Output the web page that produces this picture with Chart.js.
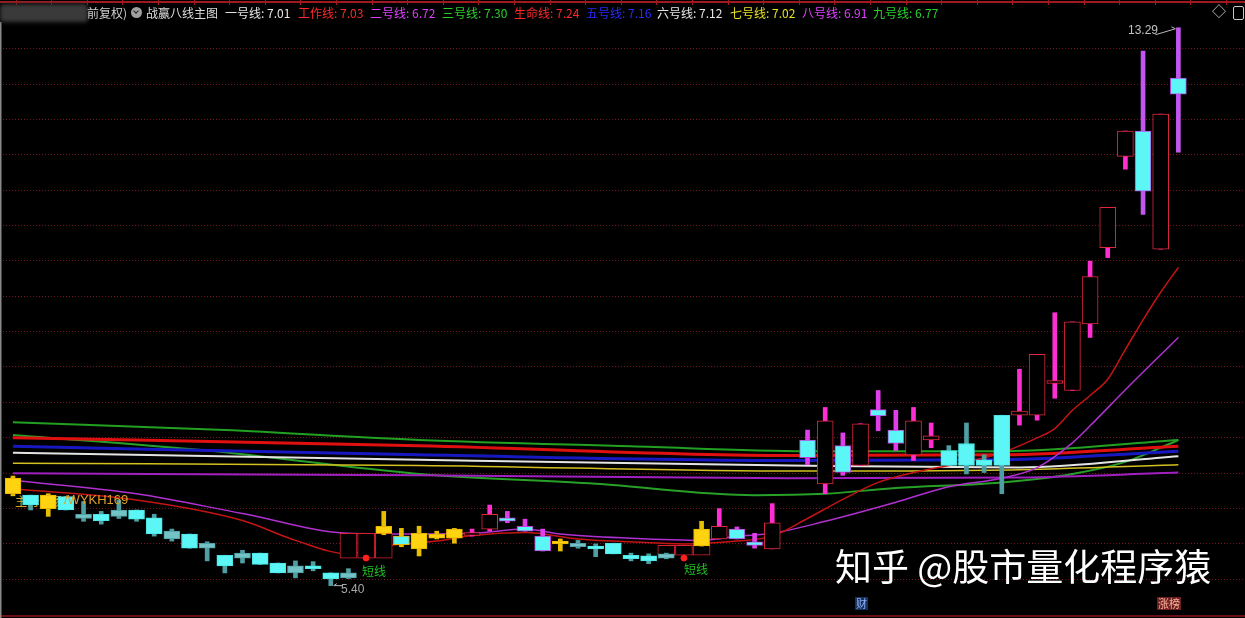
<!DOCTYPE html>
<html>
<head>
<meta charset="utf-8">
<script src="https://cdn.jsdelivr.net/npm/chart.js@4.4.0/dist/chart.umd.min.js"></script>
<style>
  html, body { margin: 0; padding: 0; background: #000; overflow: hidden; }
  #wrap { position: relative; width: 1245px; height: 618px; background: #000; }
  #chart { position: absolute; left: 0; top: 0; z-index: 1; }
  .t { position: absolute; white-space: nowrap; font-family: "Noto Sans CJK SC", "Noto Sans", sans-serif; font-size: 12px; line-height: 15px; }
  .head { top: 5px; z-index: 2; }
  .num { font-family: "Liberation Sans", Arial, sans-serif; }
</style>
</head>
<body>
<div id="wrap">
  <!-- label partly hidden by the first candles -->
  <div class="t" style="left:15px;top:493px;font-size:12px;color:#dca028;z-index:0">主力进场</div>
  <div class="t num" style="left:64px;top:492px;font-size:13px;color:#dca028;z-index:2">/WYKH169</div>

  <canvas id="chart" width="1245" height="618"></canvas>

  <!-- header -->
  <div style="position:absolute;left:0;top:4px;width:88px;height:18px;background:#3a3a3a;filter:blur(2px);border-radius:3px;z-index:2"></div>
  <div class="t head" style="left:87px;color:#cfcfcf">前复权)</div>
  <div style="position:absolute;left:131px;top:7px;width:11px;height:11px;border-radius:50%;background:#a0a0a0;z-index:2">
    <div style="position:absolute;left:3px;top:2px;width:3px;height:3px;border-right:1.5px solid #222;border-bottom:1.5px solid #222;transform:rotate(45deg)"></div>
  </div>
  <div class="t head" style="left:146px;color:#dcdcdc">战赢八线主图</div>
  <div class="t head" style="left:225px;color:#e6e6e6">一号线: 7.01</div>
  <div class="t head" style="left:298px;color:#ff2828">工作线: 7.03</div>
  <div class="t head" style="left:370px;color:#e040ff">二号线: 6.72</div>
  <div class="t head" style="left:442px;color:#2ad02a">三号线: 7.30</div>
  <div class="t head" style="left:514px;color:#ff2828">生命线: 7.24</div>
  <div class="t head" style="left:586px;color:#2a2aff">五号线: 7.16</div>
  <div class="t head" style="left:657px;color:#e6e6e6">六号线: 7.12</div>
  <div class="t head" style="left:730px;color:#e8e020">七号线: 7.02</div>
  <div class="t head" style="left:802px;color:#e040ff">八号线: 6.91</div>
  <div class="t head" style="left:873px;color:#2ad02a">九号线: 6.77</div>
  <div class="t head" style="left:1212px;top:3px;font-size:14px;color:#c8c8c8">◇</div>
  <div style="position:absolute;left:1233px;top:6px;width:9px;height:12px;border:1.5px solid #c8c8c8;border-radius:2px;z-index:2"></div>

  <!-- labels on the plot -->
  <div class="t num" style="left:1128px;top:23px;color:#c0c0c0;z-index:2">13.29</div>
  <div class="t num" style="left:341px;top:582px;color:#a8a8a8;z-index:2">5.40</div>
  <div class="t" style="left:362px;top:563px;color:#22c022;z-index:2">短线</div>
  <div class="t" style="left:684px;top:561px;color:#22c022;z-index:2">短线</div>
  <div class="t" style="left:835px;top:545px;font-size:37px;line-height:40px;color:#ffffff;z-index:2">知乎 @股市量化程序猿</div>
  <div class="t" style="left:855px;top:597px;font-size:11px;line-height:13px;color:#8fb4ff;background:#16305a;padding:0 1px;z-index:2">财</div>
  <div class="t" style="left:1157px;top:597px;font-size:11px;line-height:13px;color:#ffb09a;background:#6a2020;padding:0 1px;z-index:2">涨榜</div>
</div>

<script>
// candles, one entry per bar (null = no visible bar)
const open  = [6.92, 6.68, 6.68, 6.66, 6.41, 6.41, 6.47, 6.47, 6.36, 6.17,
               6.13, 6.00, 5.83, 5.86, 5.86, 5.72, 5.68, 5.68, 5.58, 5.58,
               null, 6.14, 6.10, 6.14, 6.07, 6.07, 6.11, 6.20, 6.36, 6.24,
               6.10, 6.03, 6.00, 5.96, 6.00, 5.83, 5.82, 5.85, null, 5.96,
               6.06, 6.20, 6.02, 5.92, null, 7.46, 6.84, 7.38, 7.10, 7.89,
               7.60, 7.25, 7.46, 7.31, 7.41, 7.18, 7.81, 7.81, 7.81, 8.26,
               8.16, 9.10, 10.18, 11.47, 11.83, 10.16, 12.58];
const high  = [6.95, 6.68, 6.70, 6.66, 6.59, 6.45, 6.61, 6.47, 6.41, 6.20,
               6.13, 6.02, 5.83, 5.90, 5.86, 5.72, 5.75, 5.74, 5.58, 5.64,
               null, 6.45, 6.21, 6.24, 6.17, 6.21, 6.20, 6.54, 6.45, 6.34,
               6.20, 6.06, 6.04, 5.99, 6.00, 5.86, 5.85, 5.86, null, 6.31,
               6.49, 6.23, 6.14, 6.56, null, 7.60, 7.92, 7.56, 7.69, 8.16,
               7.88, 7.92, 7.70, 7.38, 7.70, 7.25, 7.81, 8.46, 8.67, 9.26,
               9.13, 9.99, 10.75, 11.83, 12.96, 12.07, 13.29];
const low   = [6.67, 6.47, 6.38, 6.47, 6.31, 6.27, 6.35, 6.31, 6.10, 6.03,
               5.93, 5.75, 5.58, 5.72, 5.70, 5.58, 5.51, 5.61, 5.40, 5.50,
               null, 6.12, 5.95, 5.82, 6.06, 6.00, 6.10, 6.17, 6.29, 6.17,
               5.89, 5.89, 5.93, 5.81, 5.85, 5.75, 5.71, 5.78, null, 5.96,
               6.06, 6.06, 5.93, 5.92, null, 7.11, 6.70, 6.96, 7.10, 7.59,
               7.31, 7.17, 7.35, 7.10, 6.98, 7.00, 6.70, 7.67, 7.74, 8.05,
               8.16, 8.91, 10.04, 11.29, 10.65, 10.16, 11.53];
const close = [6.70, 6.54, 6.49, 6.47, 6.35, 6.32, 6.38, 6.34, 6.13, 6.06,
               5.93, 5.93, 5.68, 5.79, 5.70, 5.58, 5.58, 5.64, 5.50, 5.51,
               null, 6.24, 5.98, 5.92, 6.13, 6.20, 6.15, 6.41, 6.31, 6.17,
               5.89, 5.99, 5.95, 5.92, 5.85, 5.78, 5.75, 5.79, null, 6.20,
               6.24, 6.06, 5.97, 6.29, null, 7.21, 7.73, 7.00, 7.69, 7.80,
               7.41, 7.73, 7.52, 7.10, 7.10, 7.10, 7.10, 7.87, 8.67, 8.30,
               9.13, 9.77, 10.75, 11.83, 10.98, 12.07, 12.35];
// bar state as coloured by the indicator
const state = ['y','c','y','c','g','c','g','c','c','g',
               'c','g','c','g','c','c','g','c','c','g',
               null,'y','cy','y','y','y','r','r','cm','cm',
               'cm','y','g','c','c','c','c','g',null,'y',
               'r','cm','cm','r',null,'cm','r','cm','r','cm',
               'cm','r','r','c','c','c','c','r','r','r',
               'r','r','r','r','cv','r','cv'];

// 短线 signal boxes and markers
const shortBoxIdx = [19, 20, 21, 37, 38, 39];
const shortBoxLow = [5.79, 5.79, 5.79, 5.83, 5.83, 5.83];
const shortBoxHigh = [6.14, 6.14, 6.14, 5.97, 5.97, 5.97];
const shortDots = [[20, 5.79], [38, 5.79]];

// indicator lines, [bar, value]
const sanhao   = [[0,7.71],[12,7.60],[23,7.46],[35,7.37],[45,7.30],[56,7.30],[66,7.46]];
const shengming = [[0,7.49],[23,7.38],[44,7.24],[56,7.25],[66,7.37]];
const wuhao    = [[0,7.37],[23,7.25],[44,7.17],[56,7.18],[66,7.30]];
const liuhao   = [[0,7.28],[23,7.18],[44,7.10],[57,7.07],[66,7.23]];
const qihao    = [[0,7.13],[23,7.10],[44,7.02],[57,7.04],[66,7.11]];
const bahao    = [[0,6.99],[23,6.96],[44,6.92],[57,6.93],[66,7.00]];
const jiuhao   = [[0,7.53],[11,7.31],[23,6.98],[33,6.84],[42,6.68],[46,6.70],[50,6.78],
                  [56,6.86],[60,6.98],[63,7.15],[66,7.46]];
const gongzuo  = [[0,6.77],[7,6.61],[13,6.32],[16,6.04],[19,5.85],[21,5.96],[24,6.03],
                  [26,6.11],[29,6.15],[32,6.06],[35,6.02],[38,5.99],[41,6.03],[43,6.10],
                  [45,6.35],[47,6.62],[49,6.86],[51,7.00],[54,7.15],[56,7.28],[58,7.49],
                  [59,7.62],[60,7.88],[61,8.09],[62,8.32],[63,8.74],[64,9.16],[65,9.55],[66,9.90]];
const erhao    = [[0,6.89],[7,6.70],[13,6.42],[19,6.14],[22,6.13],[26,6.14],[29,6.20],
                  [31,6.13],[35,6.07],[39,6.04],[41,6.10],[43,6.14],[46,6.31],[50,6.58],
                  [53,6.80],[56,6.92],[58,7.07],[60,7.42],[61,7.66],[63,8.17],[66,8.91]];

const gridValues = [5.5, 6.0, 6.5, 7.0, 7.5, 8.0, 8.5, 9.0, 9.5, 10.0, 10.5, 11.0, 11.5, 12.0, 12.5, 13.0];

const palette = {
  y:  { fill: '#ffd30f', edge: '#e6b400', wick: '#e8bf00' },
  c:  { fill: '#5cf6f6', edge: '#4ce4e4', wick: '#4e9ea3' },
  g:  { fill: '#72c2c6', edge: '#4f9ea3', wick: '#4f9ea3' },
  cm: { fill: '#5cf6f6', edge: '#c23cdc', wick: '#e03ee8' },
  cv: { fill: '#5cf6f6', edge: '#b44ee8', wick: '#c256f0' },
  cy: { fill: '#5cf6f6', edge: '#e6b400', wick: '#e8bf00' },
  r:  { fill: '#000000', edge: '#e0283c', wick: '#ff2ed2' }
};

const bodies = [];
const wicks = [];
open.forEach((o, i) => {
  if (o === null) return;
  bodies.push({ x: i, y: [Math.min(o, close[i]), Math.max(o, close[i])], s: state[i] });
  wicks.push({ x: i, y: [low[i], high[i]], s: state[i] });
});

const boxes = shortBoxIdx.map((i, k) => ({ x: i, y: [shortBoxLow[k], shortBoxHigh[k]] }));
const pts = arr => arr.map(p => ({ x: p[0], y: p[1] }));

function lineSet(data, color, width, order) {
  return {
    type: 'line',
    data: pts(data),
    borderColor: color,
    borderWidth: width,
    pointRadius: 0,
    fill: false,
    cubicInterpolationMode: 'monotone',
    order: order
  };
}

// grid, frame and the leader lines of the high / low labels
const frame = {
  id: 'frame',
  beforeDatasetsDraw(chart) {
    const { ctx, scales: { y } } = chart;
    ctx.save();
    ctx.strokeStyle = '#701820';
    ctx.lineWidth = 1;
    ctx.setLineDash([1, 2]);
    gridValues.forEach(v => {
      const py = Math.round(y.getPixelForValue(v)) + 0.5;
      ctx.beginPath();
      ctx.moveTo(0, py);
      ctx.lineTo(chart.width, py);
      ctx.stroke();
    });
    ctx.restore();
  },
  afterDatasetsDraw(chart) {
    const { ctx, scales: { x, y } } = chart;
    ctx.save();
    // top border with its small ticks
    ctx.fillStyle = '#a01820';
    ctx.fillRect(0, 1, chart.width, 2);
    for (let tx = 1226; tx > 0; tx -= 35.6) ctx.fillRect(Math.round(tx), 0, 1, 5);
    // bottom border and left edge
    ctx.fillStyle = '#6a1014';
    ctx.fillRect(0, 615, chart.width, 2);
    ctx.fillStyle = '#8a8a8a';
    ctx.fillRect(0, 22, 1.5, 596);

    ctx.strokeStyle = '#b8b8b8';
    ctx.lineWidth = 1;
    const hx = x.getPixelForValue(66), hy = y.getPixelForValue(high[66]);
    ctx.beginPath();
    ctx.moveTo(hx - 23, hy + 7);
    ctx.lineTo(hx - 3, hy + 1);
    ctx.lineTo(hx - 7, hy - 1);
    ctx.stroke();
    const lx = x.getPixelForValue(18), ly = y.getPixelForValue(low[18]);
    ctx.beginPath();
    ctx.moveTo(lx + 12, ly);
    ctx.lineTo(lx + 3, ly);
    ctx.lineTo(lx + 6, ly - 2);
    ctx.stroke();
    ctx.restore();
  }
};

new Chart(document.getElementById('chart'), {
  type: 'bar',
  data: {
    datasets: [
      {
        type: 'line',
        data: shortDots.map(p => ({ x: p[0], y: p[1] })),
        showLine: false,
        pointRadius: 3,
        pointBackgroundColor: '#ff2020',
        pointBorderColor: '#ff2020',
        order: 1
      },
      {
        data: bodies,
        grouped: false,
        barThickness: 16,
        borderWidth: 1,
        borderSkipped: false,
        backgroundColor: c => palette[c.raw.s].fill,
        borderColor: c => palette[c.raw.s].edge,
        order: 2
      },
      {
        data: wicks,
        grouped: false,
        barThickness: 4,
        borderWidth: 0,
        borderSkipped: false,
        backgroundColor: c => palette[c.raw.s].wick,
        order: 3
      },
      {
        data: boxes,
        grouped: false,
        barThickness: 17,
        borderWidth: 1,
        borderSkipped: false,
        backgroundColor: '#000000',
        borderColor: '#d82030',
        order: 4
      },
      lineSet(gongzuo, '#c41414', 1.5, 5),
      lineSet(erhao, '#b030d0', 1.5, 5),
      lineSet(bahao, '#a020c0', 2, 6),
      lineSet(qihao, '#d4c020', 1.5, 6),
      lineSet(liuhao, '#e4e4e4', 2, 6),
      lineSet(wuhao, '#1818c0', 3, 6),
      lineSet(shengming, '#e01010', 3, 6),
      lineSet(jiuhao, '#28a028', 2, 6),
      lineSet(sanhao, '#22a022', 2, 6)
    ]
  },
  options: {
    responsive: false,
    animation: false,
    devicePixelRatio: 1,
    events: [],
    layout: { padding: 0 },
    plugins: { legend: { display: false }, tooltip: { enabled: false } },
    scales: {
      x: { type: 'linear', display: false, offset: false, min: -0.449, max: 69.49 },
      y: { type: 'linear', display: false, min: 5.013, max: 13.612 }
    }
  },
  plugins: [frame]
});
</script>
</body>
</html>
